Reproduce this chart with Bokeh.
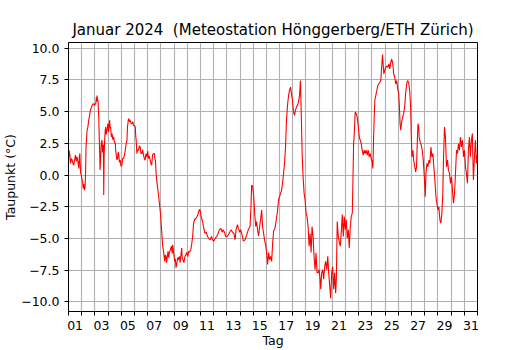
from bokeh.plotting import figure
from bokeh.models import FixedTicker, ColumnDataSource, Range1d
from bokeh.embed import file_html
from bokeh.resources import INLINE

title_text = "Januar 2024\u00a0 (Meteostation Hönggerberg/ETH Zürich)"
x_label = "Tag"
y_label = "Taupunkt (°C)"

# day label positions (noon of odd days) and their labels
label_pos = [0.5, 2.5, 4.5, 6.5, 8.5, 10.5, 12.5, 14.5, 16.5, 18.5, 20.5,
             22.5, 24.5, 26.5, 28.5, 30.5]
tick_labels = ["01", "03", "05", "07", "09", "11", "13", "15", "17", "19",
               "21", "23", "25", "27", "29", "31"]
day_bounds = [0, 1, 2, 3, 4, 5, 6, 7, 8, 9, 10, 11, 12, 13, 14, 15, 16, 17,
              18, 19, 20, 21, 22, 23, 24, 25, 26, 27, 28, 29, 30, 31]
y_ticks = [-10, -7.5, -5, -2.5, 0, 2.5, 5, 7.5, 10]
y_tick_labels = ["−10.0", "−7.5", "−5.0", "−2.5", "0.0", "2.5", "5.0", "7.5", "10.0"]

# time in days since 1 Jan 00:00
days = [
    0.00, 0.05, 0.10, 0.15, 0.22, 0.28, 0.34, 0.40, 0.46, 0.53, 0.59, 0.65, 0.72, 0.78, 0.83, 0.86,
    0.91, 0.97, 1.03, 1.08, 1.11, 1.16, 1.21, 1.26, 1.30, 1.33, 1.41, 1.47, 1.53, 1.60, 1.66, 1.72,
    1.79, 1.85, 1.91, 1.97, 2.04, 2.08, 2.11, 2.14, 2.16, 2.20, 2.24, 2.29, 2.33, 2.36, 2.39, 2.42,
    2.47, 2.50, 2.54, 2.58, 2.62, 2.65, 2.67, 2.70, 2.74, 2.78, 2.82, 2.86, 2.92, 2.96, 2.99, 3.04,
    3.08, 3.12, 3.16, 3.19, 3.25, 3.30, 3.36, 3.42, 3.48, 3.55, 3.58, 3.62, 3.67, 3.72, 3.76, 3.80,
    3.86, 3.92, 3.98, 4.05, 4.10, 4.18, 4.24, 4.30, 4.36, 4.43, 4.47, 4.50, 4.54, 4.58, 4.63, 4.68,
    4.74, 4.81, 4.87, 4.93, 5.00, 5.06, 5.10, 5.13, 5.16, 5.18, 5.24, 5.31, 5.37, 5.43, 5.49, 5.56,
    5.62, 5.69, 5.75, 5.81, 5.87, 5.94, 6.00, 6.06, 6.12, 6.19, 6.25, 6.31, 6.37, 6.44, 6.51, 6.56,
    6.59, 6.64, 6.71, 6.81, 6.89, 6.97, 7.04, 7.09, 7.14, 7.22, 7.29, 7.34, 7.39, 7.43, 7.47, 7.54,
    7.60, 7.64, 7.72, 7.80, 7.86, 7.90, 7.97, 8.05, 8.10, 8.15, 8.22, 8.28, 8.33, 8.40, 8.46, 8.50,
    8.58, 8.62, 8.65, 8.75, 8.80, 8.85, 8.95, 9.05, 9.10, 9.15, 9.26, 9.33, 9.41, 9.48, 9.56, 9.66,
    9.73, 9.81, 9.86, 9.91, 9.95, 9.99, 10.06, 10.16, 10.26, 10.34, 10.44, 10.54, 10.64, 10.74, 10.84, 10.92,
    11.02, 11.12, 11.24, 11.34, 11.44, 11.55, 11.65, 11.72, 11.82, 11.92, 12.02, 12.12, 12.22, 12.33, 12.43, 12.53,
    12.63, 12.70, 12.80, 12.88, 12.98, 13.05, 13.13, 13.26, 13.38, 13.51, 13.63, 13.76, 13.83, 13.88, 13.96, 14.04,
    14.11, 14.19, 14.26, 14.34, 14.41, 14.49, 14.56, 14.64, 14.71, 14.79, 14.86, 14.94, 15.02, 15.09, 15.17, 15.24,
    15.32, 15.40, 15.47, 15.55, 15.65, 15.75, 15.85, 15.92, 16.00, 16.07, 16.15, 16.22, 16.30, 16.37, 16.45, 16.52,
    16.60, 16.68, 16.75, 16.83, 16.90, 16.98, 17.05, 17.13, 17.20, 17.28, 17.35, 17.43, 17.51, 17.58, 17.63, 17.71,
    17.78, 17.86, 17.93, 18.01, 18.08, 18.16, 18.24, 18.31, 18.39, 18.46, 18.54, 18.61, 18.69, 18.76, 18.84, 18.92,
    18.99, 19.07, 19.12, 19.19, 19.27, 19.34, 19.42, 19.49, 19.57, 19.65, 19.72, 19.80, 19.87, 19.95, 20.02, 20.10,
    20.17, 20.25, 20.30, 20.37, 20.45, 20.53, 20.60, 20.68, 20.75, 20.83, 20.90, 20.98, 21.05, 21.13, 21.21, 21.28,
    21.36, 21.43, 21.51, 21.56, 21.61, 21.66, 21.73, 21.81, 21.88, 21.96, 22.04, 22.11, 22.19, 22.26, 22.34, 22.41,
    22.49, 22.56, 22.64, 22.72, 22.79, 22.87, 22.94, 23.02, 23.07, 23.12, 23.17, 23.22, 23.29, 23.37, 23.44, 23.52,
    23.59, 23.67, 23.75, 23.80, 23.85, 23.90, 23.97, 24.05, 24.12, 24.20, 24.28, 24.35, 24.43, 24.50, 24.58, 24.65,
    24.73, 24.80, 24.88, 24.95, 25.03, 25.08, 25.13, 25.18, 25.25, 25.33, 25.40, 25.48, 25.55, 25.63, 25.70, 25.78,
    25.86, 25.93, 25.98, 26.03, 26.11, 26.16, 26.23, 26.31, 26.38, 26.44, 26.49, 26.54, 26.59, 26.66, 26.74, 26.81,
    26.89, 26.97, 27.04, 27.09, 27.17, 27.24, 27.32, 27.39, 27.47, 27.54, 27.62, 27.69, 27.77, 27.85, 27.92, 28.00,
    28.07, 28.15, 28.22, 28.30, 28.37, 28.42, 28.50, 28.57, 28.65, 28.73, 28.80, 28.88, 28.95, 29.03, 29.10, 29.18,
    29.26, 29.33, 29.41, 29.48, 29.56, 29.63, 29.71, 29.78, 29.86, 29.94, 30.01, 30.09, 30.16, 30.24, 30.31, 30.39,
    30.46, 30.54, 30.61, 30.69, 30.76, 30.84, 30.92, 31.00,
]

# dew point in deg C
taupunkt = [
    1.2, 1.96, 1.6, 0.92, 1.3, 1.18, 0.9, 0.78, 1.2, 1.57, 1.1, 1.44, 1.0, 0.52, 1.5, 1.7,
    0.26, 0.0, -0.39, -0.6, -1.05, -0.7, -1.18, -0.92, 0.5, 2.22, 3.53, 3.8, 4.31, 4.7, 5.1, 5.3,
    5.49, 5.6, 5.62, 5.5, 5.6, 5.7, 6.14, 5.8, 6.27, 5.9, 5.88, 4.58, 3.0, 1.96, 0.4, 0.92,
    2.22, 2.6, 2.75, 1.8, 1.96, 2.4, -1.57, 1.5, 2.75, 3.5, 3.79, 3.2, 3.53, 3.9, 4.05, 3.4,
    4.0, 4.31, 3.7, 3.79, 3.0, 3.27, 2.8, 3.01, 2.6, 2.48, 1.9, 1.57, 1.2, 1.31, 1.8, 1.7,
    1.0, 1.18, 0.7, 0.78, 1.3, 1.31, 1.6, 1.96, 2.4, 2.75, 3.8, 4.05, 4.4, 4.44, 4.2, 4.31,
    4.1, 4.05, 4.2, 3.92, 3.9, 3.79, 3.0, 2.75, 2.2, 1.7, 2.0, 1.96, 2.3, 2.22, 1.7, 1.7,
    2.0, 1.57, 1.3, 1.18, 1.7, 1.44, 1.9, 1.31, 1.5, 1.18, 0.9, 0.78, 1.6, 1.7, 1.7, 1.2,
    1.18, 0.13, -0.65, -1.44, -2.22, -3.0, -4.05, -4.84, -5.62, -6.14, -6.8, -6.3, -6.4, -6.9, -6.6, -6.0,
    -6.5, -6.1, -5.9, -5.6, -6.2, -5.5, -6.1, -6.8, -6.6, -7.3, -6.9, -6.5, -6.67, -6.4, -6.9, -6.5,
    -5.75, -6.6, -6.6, -6.9, -6.5, -6.4, -6.1, -6.4, -6.0, -6.1, -5.9, -5.5, -4.84, -3.8, -3.5, -3.4,
    -3.3, -3.1, -2.9, -2.75, -2.7, -2.9, -3.3, -3.66, -4.2, -4.6, -4.5, -4.84, -5.0, -5.1, -4.84, -5.1,
    -5.2, -4.97, -4.84, -4.6, -4.3, -4.2, -4.5, -4.3, -4.5, -4.84, -4.84, -4.7, -4.5, -4.3, -4.5, -4.6,
    -5.1, -4.3, -3.9, -4.2, -4.5, -4.3, -4.6, -5.2, -5.1, -4.7, -4.3, -4.05, -2.5, -0.78, -0.9, -1.7,
    -3.0, -4.05, -3.66, -4.4, -4.8, -4.05, -3.5, -2.75, -4.05, -4.6, -5.1, -5.5, -6.1, -7.05, -6.1, -6.67,
    -6.4, -6.8, -5.4, -4.4, -4.2, -3.5, -2.75, -1.96, -1.7, -1.44, -1.2, -0.65, 0.13, 0.92, 2.2, 4.3,
    5.5, 6.27, 6.67, 6.93, 6.4, 5.9, 5.0, 4.7, 5.1, 5.36, 5.5, 5.75, 6.27, 7.45, 5.36, 1.7,
    -0.13, -1.44, -1.96, -3.0, -3.27, -4.05, -5.6, -4.6, -6.1, -4.05, -4.84, -6.4, -7.45, -6.14, -7.7, -7.7,
    -7.45, -8.2, -9.0, -7.7, -7.45, -8.2, -7.2, -6.8, -7.45, -6.4, -7.7, -8.75, -9.7, -7.7, -7.2, -9.0,
    -7.7, -9.3, -8.2, -3.66, -4.84, -5.3, -5.6, -4.4, -3.1, -4.84, -3.27, -4.3, -3.5, -4.97, -4.3, -5.75,
    -4.05, -3.27, -3.0, -0.39, 2.48, 3.27, 4.97, 4.84, 4.58, 3.92, 3.0, 2.75, 2.48, 1.96, 1.57, 1.96,
    1.7, 1.96, 1.57, 1.96, 1.44, 1.7, 1.31, 1.05, 0.52, 2.75, 4.58, 5.9, 6.27, 6.67, 7.06, 7.19,
    7.3, 7.45, 8.76, 9.5, 8.76, 7.97, 8.24, 8.5, 8.6, 8.5, 8.76, 8.37, 8.9, 9.15, 8.76, 7.97,
    7.71, 7.19, 7.45, 6.8, 6.4, 5.36, 4.05, 3.53, 4.2, 4.58, 4.84, 5.36, 6.4, 7.19, 7.45, 7.3,
    6.67, 5.36, 3.27, 1.44, 1.96, 1.18, 0.78, 0.26, 0.65, 2.75, 4.05, 3.79, 2.88, 2.6, 2.35, 1.96,
    1.18, -0.13, -1.7, 0.13, 0.92, 0.65, 1.18, 0.92, 2.22, 1.44, 1.7, 0.65, -0.39, -1.7, -2.22, -2.75,
    -2.5, -3.53, -3.79, -3.0, -1.44, 1.18, 3.79, 3.0, 0.65, 1.18, 0.39, 0.13, -0.65, -0.13, -1.18, -2.22,
    -1.44, 0.13, 1.96, 1.7, 2.48, 1.96, 3.0, 2.22, 2.75, 1.44, 1.96, 0.65, 0.13, -0.65, 1.96, 3.0,
    1.44, 2.75, 3.27, -0.39, 1.18, 2.75, 0.92, 1.7,
]

src = ColumnDataSource(data=dict(day=days, tp=taupunkt))

p = figure(width=530, height=350, output_backend="svg", toolbar_location=None,
           x_range=Range1d(0, 31), y_range=Range1d(-10.75, 10.45),
           min_border_left=67, min_border_right=53, min_border_top=42, min_border_bottom=38)

p.line("day", "tp", source=src, line_color="#ff0000", line_width=1.1)

p.title.text = title_text
p.title.align = "center"
p.title.text_font = "DejaVu Sans"
p.title.text_font_size = "15px"
p.title.text_font_style = "normal"
p.title.text_color = "black"
p.title.standoff = 7

p.outline_line_color = "black"
p.outline_line_width = 1
p.background_fill_color = "white"
p.border_fill_color = "white"

xa = p.xaxis[0]
xa.ticker = FixedTicker(ticks=label_pos, minor_ticks=day_bounds)
xa.major_label_overrides = {pos: lab for pos, lab in zip(label_pos, tick_labels)}
xa.major_tick_out = 0
xa.major_tick_in = 0
xa.minor_tick_out = 4
xa.minor_tick_in = 0
xa.minor_tick_line_color = "black"
xa.axis_label = x_label
xa.major_label_standoff = 5
xa.axis_label_standoff = 0

ya = p.yaxis[0]
ya.ticker = FixedTicker(ticks=y_ticks, minor_ticks=[])
ya.major_label_overrides = {t: lab for t, lab in zip(y_ticks, y_tick_labels)}
ya.major_tick_out = 4
ya.major_tick_in = 0
ya.axis_label = y_label
ya.major_label_standoff = 5
ya.axis_label_standoff = 0

for ax in (xa, ya):
    ax.axis_line_color = "black"
    ax.major_tick_line_color = "black"
    ax.major_label_text_font = "DejaVu Sans"
    ax.major_label_text_font_size = "12.5px"
    ax.major_label_text_color = "black"
    ax.axis_label_text_font = "DejaVu Sans"
    ax.axis_label_text_font_size = "12.5px"
    ax.axis_label_text_font_style = "normal"
    ax.axis_label_text_color = "black"

p.xgrid.ticker = FixedTicker(ticks=day_bounds)
p.ygrid.ticker = FixedTicker(ticks=y_ticks)
for g in (p.xgrid, p.ygrid):
    g.grid_line_color = "#b0b0b0"
    g.grid_line_width = 1.1

open("out.html", "w").write(file_html(p, INLINE))
